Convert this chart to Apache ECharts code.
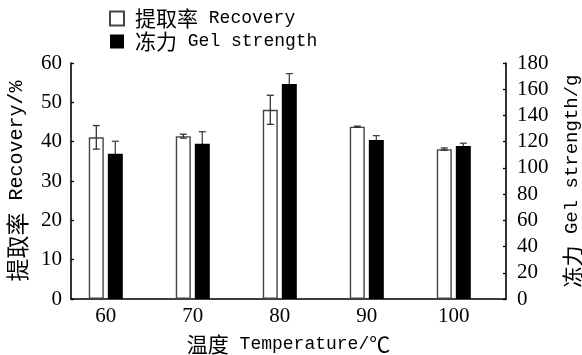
<!DOCTYPE html>
<html>
<head>
<meta charset="utf-8">
<script src="https://cdn.jsdelivr.net/npm/echarts@6/dist/echarts.min.js"></script>
<style>
  html, body { margin: 0; padding: 0; background: #fff; }
  #chart { width: 582px; height: 355px; }
</style>
</head>
<body>
<div id="chart"></div>
<script>
// Extraction temperature (°C)
const temps = [60, 70, 80, 90, 100];
// Recovery (%), mean and standard deviation
const recovery = [41.1, 41.4, 48.1, 43.8, 38.1];
const recoveryErr = [3.0, 0.5, 3.7, 0.15, 0.3];
// Gel strength (g), mean and standard deviation
const gelStrength = [110.8, 118.5, 164.0, 121.3, 116.7];
const gelErr = [9.5, 9.1, 7.9, 3.3, 2.1];

const leftTicks = { min: 0, max: 60, interval: 10 };
const rightTicks = { min: 0, max: 180, interval: 20 };

const BAR_W = 15;
const HALF_STEP = 9.5; // horizontal distance from the category centre to each bar centre

const zhFont = '"Noto Sans CJK SC", sans-serif';
const enFont = '"Liberation Mono", monospace';
const numFont = '"Liberation Serif", "Times New Roman", serif';

function richStyle(zhSize, enSize, lineHeight) {
  return {
    zh: { fontFamily: zhFont, fontSize: zhSize, color: '#000', lineHeight: lineHeight },
    en: { fontFamily: enFont, fontSize: enSize, color: '#000', lineHeight: lineHeight }
  };
}

function richLabel(zh, en, tail) {
  return '{zh|' + zh + '}{en| ' + en + '}' + (tail ? '{zh|' + tail + '}' : '');
}

function errorBars(vals, errs, yIndex, shift, color, z) {
  return {
    type: 'custom',
    xAxisIndex: 0,
    yAxisIndex: yIndex,
    z: z,
    silent: true,
    data: temps.map((t, i) => [t, vals[i] - errs[i], vals[i] + errs[i]]),
    renderItem: function (params, api) {
      const lo = api.coord([api.value(0), api.value(1)]);
      const hi = api.coord([api.value(0), api.value(2)]);
      const x = lo[0] + shift;
      const cap = 3.5;
      const style = { stroke: color, lineWidth: 1.3 };
      return {
        type: 'group',
        children: [
          { type: 'line', shape: { x1: x, y1: lo[1], x2: x, y2: hi[1] }, style: style },
          { type: 'line', shape: { x1: x - cap, y1: hi[1], x2: x + cap, y2: hi[1] }, style: style },
          { type: 'line', shape: { x1: x - cap, y1: lo[1], x2: x + cap, y2: lo[1] }, style: style }
        ]
      };
    }
  };
}

const chart = echarts.init(document.getElementById('chart'), null, { renderer: 'canvas' });

chart.setOption({
  animation: false,
  backgroundColor: '#fff',
  grid: { left: 71, right: 76, top: 63, bottom: 56, outerBoundsMode: 'none', containLabel: false },
  legend: {
    orient: 'vertical',
    left: 104,
    top: 3,
    padding: 5,
    itemWidth: 14,
    itemHeight: 14,
    itemGap: 2,
    icon: 'rect',
    data: ['提取率 Recovery', '冻力 Gel strength'],
    formatter: function (name) {
      const p = name.indexOf(' ');
      return richLabel(name.slice(0, p), name.slice(p + 1));
    },
    textStyle: { rich: richStyle(21, 18, 20), padding: [0, 0, 0, 6] }
  },
  xAxis: {
    type: 'value',
    min: 56,
    max: 106,
    name: richLabel('温度', 'Temperature/', '℃'),
    nameLocation: 'middle',
    nameGap: 35,
    nameTextStyle: { rich: richStyle(21, 18, 20) },
    splitLine: { show: false },
    axisLine: { show: true, lineStyle: { color: '#000', width: 1.6 } },
    axisTick: { show: false },
    axisLabel: {
      customValues: temps,
      margin: 7,
      fontFamily: numFont,
      fontSize: 21,
      color: '#000'
    }
  },
  yAxis: [
    {
      type: 'value',
      position: 'left',
      min: leftTicks.min,
      max: leftTicks.max,
      interval: leftTicks.interval,
      name: richLabel('提取率', 'Recovery/%'),
      nameLocation: 'middle',
      nameRotate: 90,
      nameGap: 43,
      nameTextStyle: { rich: richStyle(23, 20, 22) },
      splitLine: { show: false },
      axisLine: { show: true, lineStyle: { color: '#000', width: 1.6 } },
      axisTick: { show: true, inside: true, length: 3, lineStyle: { color: '#000', width: 1.3 } },
      axisLabel: { margin: 9, fontFamily: numFont, fontSize: 21, color: '#000' }
    },
    {
      type: 'value',
      position: 'right',
      min: rightTicks.min,
      max: rightTicks.max,
      interval: rightTicks.interval,
      name: richLabel('冻力', 'Gel strength/g'),
      nameLocation: 'middle',
      nameRotate: 90,
      nameGap: 56,
      nameTextStyle: { rich: richStyle(21, 19, 20) },
      splitLine: { show: false },
      axisLine: { show: true, lineStyle: { color: '#000', width: 1.6 } },
      axisTick: { show: true, inside: true, length: 3, lineStyle: { color: '#000', width: 1.3 } },
      axisLabel: { margin: 11, fontFamily: numFont, fontSize: 21, color: '#000' }
    }
  ],
  series: [
    {
      name: '提取率 Recovery',
      type: 'bar',
      yAxisIndex: 0,
      barWidth: BAR_W,
      barGap: '27%',
      z: 2,
      itemStyle: { color: '#fff', borderColor: '#444', borderWidth: 1.4 },
      data: temps.map((t, i) => [t, recovery[i]])
    },
    {
      name: '冻力 Gel strength',
      type: 'bar',
      yAxisIndex: 1,
      barWidth: BAR_W,
      barGap: '27%',
      z: 2,
      itemStyle: { color: '#000', borderColor: '#000', borderWidth: 0 },
      data: temps.map((t, i) => [t, gelStrength[i]])
    },
    errorBars(recovery, recoveryErr, 0, -HALF_STEP, '#333', 3),
    errorBars(gelStrength, gelErr, 1, HALF_STEP, '#444', 1)
  ]
});
</script>
</body>
</html>
